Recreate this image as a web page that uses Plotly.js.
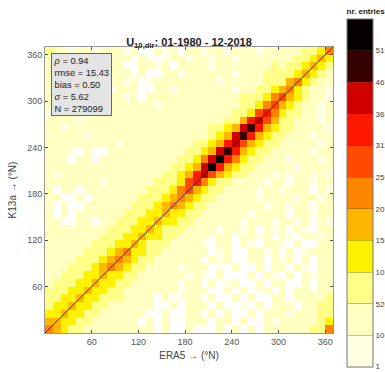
<!DOCTYPE html>
<html>
<head>
<meta charset="utf-8">
<script src="https://cdn.plot.ly/plotly-3.0.1.min.js"></script>
<style>
html,body{margin:0;padding:0;background:#fff;}
#chart{width:385px;height:372px;}
</style>
</head>
<body>
<div id="chart"></div>
<script>
// bin centres (10-degree bins, 0..370)
const binCenters = [5,15,25,35,45,55,65,75,85,95,105,115,125,135,145,155,165,175,185,195,205,215,225,235,245,255,265,275,285,295,305,315,325,335,345,355,365];

// colour classes of the colorbar (lowest to highest)
const levelColors = ['#ffffe3','#ffffc2','#ffff88','#fff200','#ffb600','#ff8400','#ff4a00','#ff1800','#cf0000','#340000','#060000'];
const levelLabels = ['1','10','520','1039','1559','2078','2598','3117','3637','4676','5196'];

// counts class per cell ('.' = no entries, 0..9,B = class index)
// rows from top (K13a 360-370) to bottom (K13a 0-10); columns ERA5 0-10 ... 360-370
const gridRows = [
"2110110111 01..101.11 0110111011 1112235",
"1101.10111 1.10.01101 1011011111 1122343",
"1011101.11 ..1101.111 1011111112 1223432",
"1101101011 1.1..11011 1111011122 2234321",
"1011.10111 01.0111111 1101111122 2453211",
"1.11011101 11..110111 1111011223 4532110",
"1011110111 01.1111111 1111122235 6432110",
"1101111011 1111011111 1111122356 4321101",
"0111101111 1111111111 1111223675 3221101",
"1111011111 1111111111 1112247864 2211101",
"1101111111 1111111111 1223489743 2211110",
"1111101111 1111111111 1234897432 2111011",
"1111111110 1111111112 2347864322 1111101",
"1110.1..11 1111111122 3489743221 1111011",
"111.11.111 1111111223 58B7532211 1011101",
"1111111111 1111112234 8B74322111 1101111",
"1011111111 1111122347 8643221110 1011010",
"1111111011 1111222367 5322111101 1.11011",
"1.11.11111 1112223564 3221111011 0111.10",
"11..1.1111 1122234543 2211111011 1101101",
"1.1..11111 1222345432 2111111101 1011.11",
"1.1.111111 2223343322 1111110111 1.11011",
"11..11.112 2233433221 1111101110 1101.10",
"1111111122 2334322211 1101101.10 1.10.11",
"1111111222 3343322111 1011.1101. 10.1101",
"1111112223 3432221111 0.11.10.11 0.1..11",
"1111122234 5332211111 1.01..1101 .1.0111",
"1111222345 4322111111 .101..11.1 01.1.11",
"1112223454 3221111011 1.0.1..1.1 1.10.11",
"1122233433 2211111101 0.1...1.10 .1.1011",
"1222334332 2111111011 .1.01..1.1 1..1.11",
"2223343322 1111111011 1..1.1.01. 1.11011",
"2233433222 1111.1.011 .1..1.1..1 1.11112",
"2334332211 1111..1.11 1.1..0.1.1 11.1122",
"3343322111 111..1..11 .1.1..1.11 1011122",
"4433221111 11.1.1..11 1.11.1..10 1111123",
"5432211111 1111.1..1. ..1.1.1.11 1111225"
];

// 1:1 reference line
const refX = [0, 370];
const refY = [0, 370];

// statistics
const statLines = ['<i>ρ</i> = 0.94', 'rmse = 15.43', 'bias = 0.50', '<i>σ</i> = 5.62', 'N = 279099'];

const tickVals = [60, 120, 180, 240, 300, 360];

const codes = '0123456789B';
const z = gridRows.slice().reverse().map(r =>
  r.replace(/ /g, '').split('').map(c => c === '.' ? null : codes.indexOf(c)));

const nLev = levelColors.length;
const colorscale = [];
levelColors.forEach((c, k) => { colorscale.push([k / nLev, c]); colorscale.push([(k + 1) / nLev, c]); });

const FONT = 'Arial, "Liberation Sans", Helvetica, sans-serif';

// plot area in pixels
const M = {l: 45, r: 52, t: 47, b: 39, autoexpand: false};
const PW = 385 - M.l - M.r, PH = 372 - M.t - M.b;

const cbTickVals = levelLabels.map((_, k) => (k === 0 ? -0.49 : k - 0.5));

const heat = {
  type: 'heatmap',
  x: binCenters,
  y: binCenters,
  z: z,
  zmin: -0.5,
  zmax: nLev - 0.5,
  colorscale: colorscale,
  hoverinfo: 'skip',
  colorbar: {
    title: {text: '<b>nr. entries</b>', side: 'top', font: {size: 8, color: '#222', family: FONT}},
    tickvals: cbTickVals,
    ticktext: levelLabels,
    ticks: 'inside',
    ticklen: 26,
    tickwidth: 1,
    tickcolor: 'rgba(90,70,0,0.35)',
    tickfont: {size: 8, color: '#444', family: FONT},
    ticklabeloverflow: 'allow',
    thickness: 26,
    thicknessmode: 'pixels',
    len: 362,
    lenmode: 'pixels',
    x: (347 - M.l) / PW,
    xanchor: 'left',
    y: (5 - M.b) / PH,
    yanchor: 'bottom',
    xpad: 0,
    ypad: 0,
    outlinewidth: 1,
    outlinecolor: '#777'
  }
};

const line = {
  type: 'scatter',
  mode: 'lines',
  x: refX,
  y: refY,
  line: {color: 'rgba(60,20,0,0.85)', width: 1},
  hoverinfo: 'skip',
  showlegend: false
};

const axisCommon = {
  range: [0, 370],
  tickvals: tickVals,
  ticks: 'inside',
  ticklen: 3,
  tickcolor: '#555',
  showline: true,
  linecolor: '#999',
  linewidth: 1,
  mirror: 'ticks',
  showgrid: false,
  zeroline: false,
  tickfont: {size: 9, color: '#555', family: FONT},
  fixedrange: true
};

const layout = {
  width: 385,
  height: 372,
  margin: M,
  paper_bgcolor: '#fff',
  plot_bgcolor: '#fff',
  showlegend: false,
  font: {family: FONT},
  title: {
    text: '<b>U<sub>10,dir</sub>: 01-1980 - 12-2018</b>',
    font: {size: 11, color: '#222', family: FONT},
    x: 189 / 385,
    xanchor: 'center',
    xref: 'container',
    yref: 'container',
    y: 1 - 42 / 372,
    yanchor: 'middle'
  },
  xaxis: Object.assign({}, axisCommon, {
    title: {text: 'ERA5 → (°N)', font: {size: 10, color: '#444', family: FONT}, standoff: 6}
  }),
  yaxis: Object.assign({}, axisCommon, {
    title: {text: 'K13a → (°N)', font: {size: 10, color: '#444', family: FONT}, standoff: 8}
  }),
  annotations: [{
    xref: 'paper', yref: 'paper',
    x: 0.02, y: 0.978,
    xanchor: 'left', yanchor: 'top',
    text: statLines.join('<br>'),
    align: 'left',
    showarrow: false,
    font: {size: 9.3, color: '#222', family: FONT},
    bgcolor: '#e4e4e4',
    bordercolor: '#666',
    borderwidth: 1,
    borderpad: 1.5
  }]
};

Plotly.newPlot('chart', [heat, line], layout, {staticPlot: true, displayModeBar: false});
</script>
</body>
</html>
